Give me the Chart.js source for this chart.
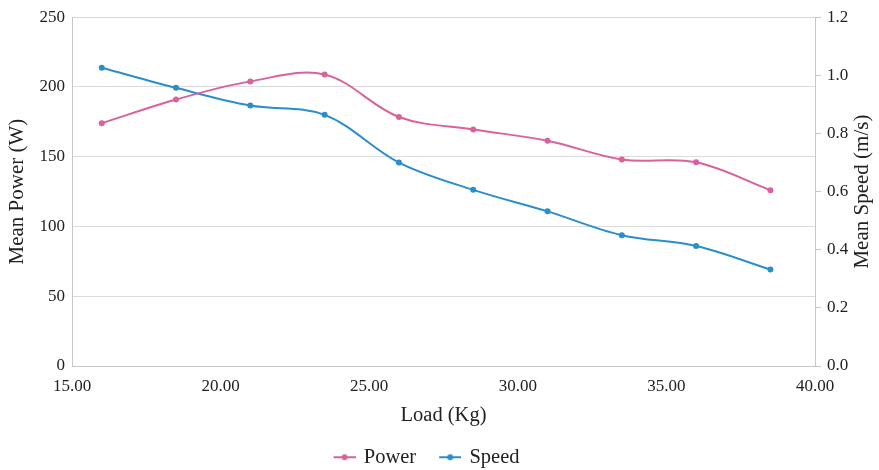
<!DOCTYPE html>
<html>
<head>
<meta charset="utf-8">
<script src="https://cdn.jsdelivr.net/npm/chart.js@4.4.1/dist/chart.umd.min.js"></script>
<style>
  html, body { margin: 0; padding: 0; background: #ffffff; }
  #wrap { width: 879px; height: 470px; }
</style>
</head>
<body>
<div id="wrap"><canvas id="chart" width="879" height="470"></canvas></div>
<script>
// Load applied (kg) and the measured means at each load
const loads = [16, 18.5, 21, 23.5, 26, 28.5, 31, 33.5, 36, 38.5];
const meanPower = [174, 191, 204, 209, 178.5, 169.5, 161.5, 148, 146, 126];
const meanSpeed = [1.026, 0.957, 0.896, 0.864, 0.70, 0.606, 0.532, 0.45, 0.413, 0.332];

const seriesNames = ['Power', 'Speed'];
const xTitle = 'Load (Kg)';
const yLeftTitle = 'Mean Power (W)';
const yRightTitle = 'Mean Speed (m/s)';

const PINK = '#d9619d';
const BLUE = '#2a8ecd';
const FONT = '"Liberation Serif", "Times New Roman", serif';
const TEXT = '#222222';

// Legend marker: short line with a dot in the middle (left margin keeps items apart)
function lineDotMarker(color) {
  const c = document.createElement('canvas');
  c.width = 28; c.height = 10;
  const g = c.getContext('2d');
  g.strokeStyle = color; g.lineWidth = 2;
  g.beginPath(); g.moveTo(6, 5); g.lineTo(28, 5); g.stroke();
  g.fillStyle = color;
  g.beginPath(); g.arc(17, 5, 3, 0, Math.PI * 2); g.fill();
  return c;
}

// Right-hand axis title, written bottom-to-top like the left one
const rightTitlePlugin = {
  id: 'rightTitle',
  afterLayout(chart) {
    // nudge the legend row slightly left of centre
    chart.legend.left -= 15;
    chart.legend.right -= 15;
  },
  afterDraw(chart) {
    const s = chart.scales.ySpeed;
    const ctx = chart.ctx;
    ctx.save();
    ctx.translate(s.right - 17, (s.top + s.bottom) / 2);
    ctx.rotate(-Math.PI / 2);
    ctx.font = '21px ' + FONT;
    ctx.fillStyle = TEXT;
    ctx.textAlign = 'center';
    ctx.textBaseline = 'middle';
    ctx.fillText(yRightTitle, 0, 0);
    ctx.restore();
  }
};

const toXY = (ys) => loads.map((x, i) => ({ x: x, y: ys[i] }));

new Chart(document.getElementById('chart'), {
  type: 'line',
  data: {
    datasets: [
      {
        label: seriesNames[0],
        data: toXY(meanPower),
        yAxisID: 'yPower',
        borderColor: PINK,
        backgroundColor: PINK,
        borderWidth: 2,
        pointRadius: 3,
        pointBorderWidth: 0,
        tension: 0.35,
        pointStyle: 'circle'
      },
      {
        label: seriesNames[1],
        data: toXY(meanSpeed),
        yAxisID: 'ySpeed',
        borderColor: BLUE,
        backgroundColor: BLUE,
        borderWidth: 2,
        pointRadius: 3,
        pointBorderWidth: 0,
        tension: 0.35,
        pointStyle: 'circle'
      }
    ]
  },
  plugins: [rightTitlePlugin],
  options: {
    responsive: false,
    animation: false,
    events: [],
    layout: { padding: { top: 15, left: 0, right: 0, bottom: 0 } },
    plugins: {
      tooltip: { enabled: false },
      legend: {
        position: 'bottom',
        maxHeight: 42,
        labels: {
          usePointStyle: true,
          pointStyleWidth: 24,
          padding: 19,
          color: TEXT,
          font: { family: FONT, size: 20.5 },
          generateLabels(chart) {
            return chart.data.datasets.map((ds, i) => ({
              text: ds.label,
              pointStyle: lineDotMarker(ds.borderColor),
              fillStyle: ds.borderColor,
              strokeStyle: ds.borderColor,
              lineWidth: 0,
              hidden: false,
              datasetIndex: i,
              fontColor: TEXT
            }));
          }
        }
      }
    },
    scales: {
      x: {
        type: 'linear',
        min: 15,
        max: 40,
        ticks: {
          stepSize: 5,
          padding: 10,
          color: TEXT,
          font: { family: FONT, size: 17 },
          callback: (v) => Number(v).toFixed(2)
        },
        grid: { display: false, drawTicks: false },
        border: { display: true, color: '#c8c8c8', width: 1 },
        title: {
          display: true,
          text: xTitle,
          color: TEXT,
          font: { family: FONT, size: 20.5 },
          padding: { top: 8, bottom: 0 }
        },
        afterFit(scale) { scale.height = 62; }
      },
      yPower: {
        type: 'linear',
        position: 'left',
        min: 0,
        max: 250,
        ticks: {
          stepSize: 50,
          padding: 7,
          color: TEXT,
          font: { family: FONT, size: 17 }
        },
        grid: { color: '#dcdcdc', drawTicks: false, lineWidth: 1 },
        border: { display: true, color: '#c8c8c8', width: 1 },
        title: {
          display: true,
          text: yLeftTitle,
          color: TEXT,
          font: { family: FONT, size: 21 },
          padding: { top: 5, bottom: 0 }
        },
        afterFit(scale) { scale.width = 72; }
      },
      ySpeed: {
        type: 'linear',
        position: 'right',
        min: 0,
        max: 1.2,
        ticks: {
          stepSize: 0.2,
          padding: 6,
          color: TEXT,
          font: { family: FONT, size: 17 },
          callback: (v) => Number(v).toFixed(1)
        },
        grid: { drawOnChartArea: false, drawTicks: true, tickLength: 6, color: '#c8c8c8' },
        border: { display: true, color: '#c8c8c8', width: 1 },
        title: { display: false },
        afterFit(scale) { scale.width = 64; }
      }
    }
  }
});
</script>
</body>
</html>
